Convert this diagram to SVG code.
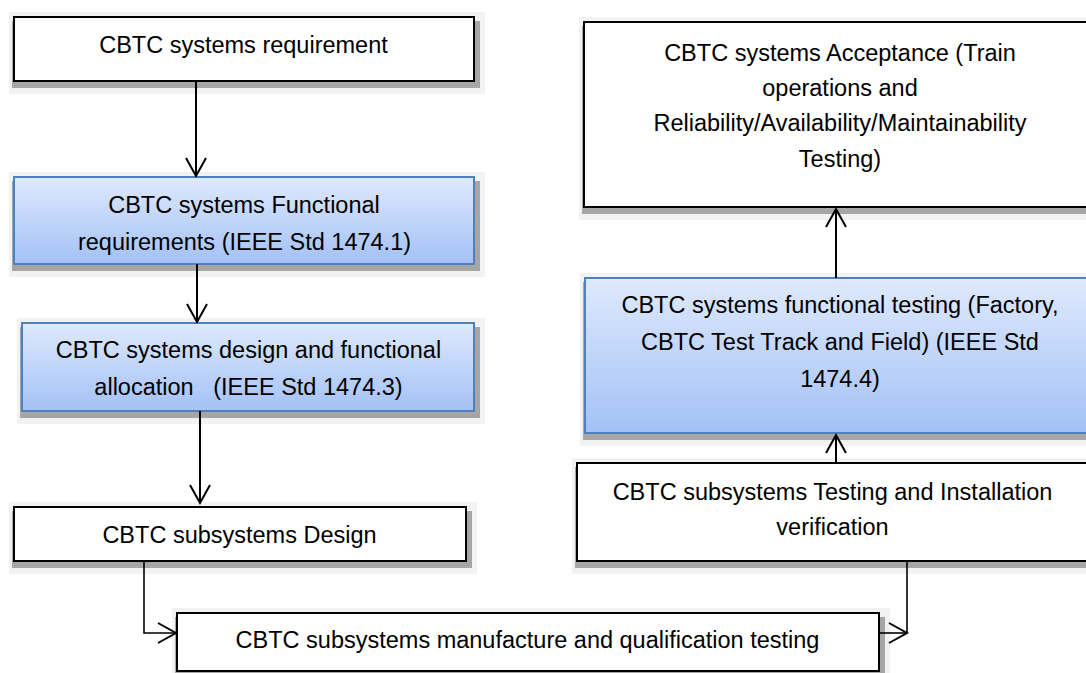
<svg xmlns="http://www.w3.org/2000/svg" width="1086" height="673" viewBox="0 0 1086 673">
<defs>
<linearGradient id="blue" x1="0" y1="0" x2="0" y2="1">
<stop offset="0" stop-color="#dfe9fc"/>
<stop offset="1" stop-color="#a3c1f6"/>
</linearGradient>
<marker id="arr" markerUnits="userSpaceOnUse" markerWidth="24" markerHeight="24" viewBox="-20 -12 24 24" refX="0" refY="0" orient="auto">
<path d="M-18,-10 L0,0 L-18,10" fill="none" stroke="#000" stroke-width="2"/>
</marker>
</defs>
<style>
.halo{fill:#f2f2f2}
.shadow{fill:#a6a6a6}
.white{fill:#fff;stroke:#000;stroke-width:2}
.blue{fill:url(#blue);stroke:#4f81bd;stroke-width:2}
text{font-family:"Liberation Sans",Arial,sans-serif;font-size:23.5px;fill:#000;text-anchor:middle;white-space:pre}
.conn{fill:none;stroke:#000;stroke-width:2}
.conn2{fill:none;stroke:#000;stroke-width:1.6}
</style>
<rect width="1086" height="673" fill="#fff"/>
<g id="n1">
<rect class="halo" x="9" y="12" width="476" height="82"/>
<rect class="shadow" x="12" y="21" width="468" height="67"/>
<rect class="white" x="14" y="17" width="460" height="64"/>
<text x="243.5" y="53">CBTC systems requirement</text>
</g>
<g id="n2">
<rect class="halo" x="9" y="172" width="476" height="105"/>
<rect class="shadow" x="12" y="181" width="468" height="90"/>
<rect class="blue" x="14" y="177" width="460" height="87"/>
<text x="244" y="213">CBTC systems Functional</text>
<text x="244.5" y="250">requirements (IEEE Std 1474.1)</text>
</g>
<g id="n3">
<rect class="halo" x="17" y="318" width="468" height="106"/>
<rect class="shadow" x="20" y="327" width="460" height="91"/>
<rect class="blue" x="22" y="323" width="452" height="88"/>
<text x="248.5" y="358">CBTC systems design and functional</text>
<text x="248.5" y="395">allocation   (IEEE Std 1474.3)</text>
</g>
<g id="n4">
<rect class="halo" x="9" y="502" width="468" height="72"/>
<rect class="shadow" x="12" y="511" width="460" height="57"/>
<rect class="white" x="14" y="507" width="452" height="54"/>
<text x="239.5" y="543">CBTC subsystems Design</text>
</g>
<g id="n5">
<rect class="halo" x="172" y="608" width="718" height="70"/>
<rect class="shadow" x="175" y="617" width="710" height="60"/>
<rect class="white" x="177" y="613" width="702" height="58"/>
<text x="527.5" y="648">CBTC subsystems manufacture and qualification testing</text>
</g>
<g id="n6">
<rect class="halo" x="572" y="458" width="530" height="116"/>
<rect class="shadow" x="575" y="467" width="520" height="101"/>
<rect class="white" x="577" y="463" width="512" height="98"/>
<text x="832.5" y="500">CBTC subsystems Testing and Installation</text>
<text x="832.5" y="535">verification</text>
</g>
<g id="n7">
<rect class="halo" x="580" y="273" width="530" height="173"/>
<rect class="shadow" x="583" y="282" width="520" height="158"/>
<rect class="blue" x="585" y="278" width="512" height="155"/>
<text x="840" y="313">CBTC systems functional testing (Factory,</text>
<text x="840" y="350">CBTC Test Track and Field) (IEEE Std</text>
<text x="840" y="387">1474.4)</text>
</g>
<g id="n8">
<rect class="halo" x="579" y="17" width="530" height="203"/>
<rect class="shadow" x="582" y="26" width="520" height="188"/>
<rect class="white" x="584" y="22" width="512" height="185"/>
<text x="840" y="61">CBTC systems Acceptance (Train</text>
<text x="840" y="96">operations and</text>
<text x="840" y="131">Reliability/Availability/Maintainability</text>
<text x="840" y="167">Testing)</text>
</g>
<g id="connectors">
<path class="conn" d="M196,81 V176" marker-end="url(#arr)"/>
<path class="conn" d="M197,264 V322" marker-end="url(#arr)"/>
<path class="conn" d="M200,411 V503" marker-end="url(#arr)"/>
<path class="conn2" d="M144,562 V633 H176" marker-end="url(#arr)"/>
<path class="conn2" d="M907,562 V633"/>
<path class="conn2" d="M879,633 H907" marker-end="url(#arr)"/>
<path class="conn" d="M836,462 V435" marker-end="url(#arr)"/>
<path class="conn" d="M836,278 V209" marker-end="url(#arr)"/>
</g>
</svg>
